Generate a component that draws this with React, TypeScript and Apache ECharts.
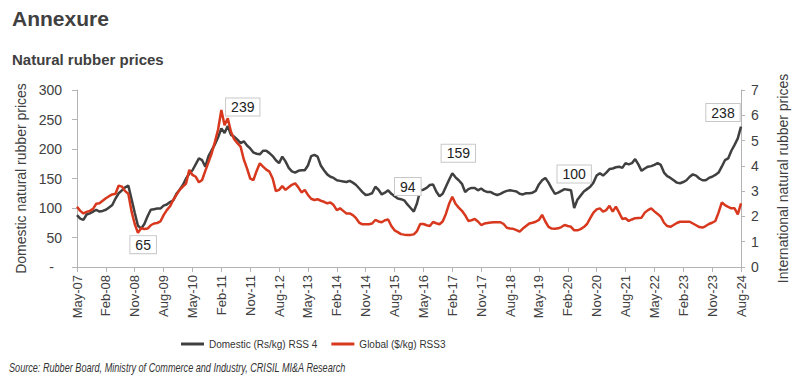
import React, { useEffect, useRef } from "react";
import * as echarts from "echarts";

// ---- data ----
const MONTH_NAMES = ["Jan", "Feb", "Mar", "Apr", "May", "Jun", "Jul", "Aug", "Sep", "Oct", "Nov", "Dec"];
const START_YEAR = 2007;
const START_MONTH = 4; // May
const N_MONTHS = 208; // May-07 .. Aug-24

const categories: string[] = [];
for (let k = 0; k < N_MONTHS; k++) {
  const m = (START_MONTH + k) % 12;
  const y = START_YEAR + Math.floor((START_MONTH + k) / 12);
  categories.push(`${MONTH_NAMES[m]}-${String(y % 100).padStart(2, "0")}`);
}

// Domestic (Rs/kg) RSS 4 — monthly
const domestic2007 = [88, 82, 80, 89, 91, 94, 97, 94];
const domestic2008 = [95, 97, 101, 105, 116, 125, 130, 135, 138, 115, 92, 70];
const domestic2009 = [65, 73, 86, 97, 98, 99, 99, 104, 106, 110, 113, 124];
const domestic2010 = [131, 139, 150, 158, 164, 174, 184, 181, 170, 188, 198, 208];
const domestic2011 = [220, 235, 227, 239, 224, 221, 216, 210, 213, 206, 201, 194];
const domestic2012 = [192, 191, 197, 197, 193, 188, 181, 176, 187, 179, 168, 162];
const domestic2013 = [160, 163, 164, 164, 172, 188, 190, 187, 172, 164, 157, 153];
const domestic2014 = [151, 147, 146, 145, 144, 146, 143, 139, 133, 127, 122, 123];
const domestic2015 = [125, 136, 131, 123, 126, 130, 124, 120, 116, 115, 113, 106];
const domestic2016 = [100, 94, 108, 130, 131, 134, 139, 140, 128, 120, 124, 136];
const domestic2017 = [148, 159, 152, 147, 141, 127, 132, 134, 134, 130, 133, 129];
const domestic2018 = [127, 127, 124, 122, 124, 127, 129, 130, 129, 128, 124, 123];
const domestic2019 = [125, 125, 126, 129, 140, 147, 151, 143, 133, 124, 126, 129];
const domestic2020 = [132, 131, 130, 100, 114, 121, 128, 132, 136, 143, 155, 159];
const domestic2021 = [155, 160, 166, 167, 169, 170, 168, 176, 174, 176, 183, 174];
const domestic2022 = [163, 167, 170, 171, 173, 176, 173, 160, 154, 151, 147, 143];
const domestic2023 = [142, 144, 147, 153, 157, 155, 150, 147, 147, 151, 153, 156];
const domestic2024 = [160, 170, 181, 184, 197, 207, 218, 238];

// Global ($/kg) RSS3 — monthly
const global2007 = [2.38, 2.22, 2.12, 2.18, 2.22, 2.3, 2.5, 2.52];
const global2008 = [2.62, 2.72, 2.8, 2.87, 2.9, 3.22, 3.18, 3.0, 2.9, 2.2, 1.7, 1.35];
const global2009 = [1.53, 1.5, 1.52, 1.65, 1.72, 1.74, 1.8, 2.05, 2.25, 2.4, 2.65, 2.85];
const global2010 = [3.05, 3.18, 3.3, 3.84, 3.64, 3.57, 3.35, 3.44, 3.8, 4.15, 4.5, 4.95];
const global2011 = [5.45, 6.21, 5.61, 5.88, 5.35, 5.05, 4.9, 4.76, 4.25, 3.9, 3.5, 3.44];
const global2012 = [3.8, 4.1, 3.97, 3.85, 3.77, 3.5, 3.0, 3.05, 3.2, 3.05, 3.15, 3.25];
const global2013 = [3.31, 3.15, 2.95, 3.05, 2.85, 2.7, 2.65, 2.68, 2.62, 2.58, 2.52, 2.55];
const global2014 = [2.45, 2.25, 2.32, 2.22, 2.12, 2.12, 2.05, 1.93, 1.75, 1.69, 1.69, 1.69];
const global2015 = [1.72, 1.86, 1.8, 1.77, 1.85, 1.88, 1.62, 1.45, 1.38, 1.3, 1.28, 1.27];
const global2016 = [1.27, 1.29, 1.42, 1.7, 1.7, 1.65, 1.62, 1.78, 1.73, 1.69, 1.8, 2.1];
const global2017 = [2.5, 2.78, 2.5, 2.35, 2.22, 2.05, 1.82, 1.85, 1.9, 1.8, 1.66, 1.72];
const global2018 = [1.74, 1.76, 1.77, 1.77, 1.77, 1.7, 1.55, 1.52, 1.51, 1.46, 1.4, 1.52];
const global2019 = [1.62, 1.72, 1.75, 1.79, 1.86, 2.06, 1.8, 1.59, 1.52, 1.51, 1.53, 1.58];
const global2020 = [1.66, 1.62, 1.59, 1.45, 1.45, 1.5, 1.58, 1.7, 1.93, 2.15, 2.28, 2.32];
const global2021 = [2.19, 2.25, 2.42, 2.19, 2.39, 2.15, 1.9, 1.93, 1.82, 1.88, 1.93, 1.94];
const global2022 = [1.95, 2.15, 2.25, 2.32, 2.2, 2.1, 1.99, 1.75, 1.62, 1.59, 1.66, 1.74];
const global2023 = [1.79, 1.79, 1.79, 1.79, 1.72, 1.65, 1.58, 1.56, 1.62, 1.7, 1.75, 1.82];
const global2024 = [2.15, 2.55, 2.45, 2.38, 2.32, 2.32, 2.08, 2.52];

const domestic = [
  ...domestic2007, ...domestic2008, ...domestic2009, ...domestic2010, ...domestic2011,
  ...domestic2012, ...domestic2013, ...domestic2014, ...domestic2015, ...domestic2016,
  ...domestic2017, ...domestic2018, ...domestic2019, ...domestic2020, ...domestic2021,
  ...domestic2022, ...domestic2023, ...domestic2024,
];
const globalPrice = [
  ...global2007, ...global2008, ...global2009, ...global2010, ...global2011,
  ...global2012, ...global2013, ...global2014, ...global2015, ...global2016,
  ...global2017, ...global2018, ...global2019, ...global2020, ...global2021,
  ...global2022, ...global2023, ...global2024,
];

// annotated domestic points (month index)
const annotatedIdx = [20, 47, 105, 117, 155, 207];

const SERIES_DOMESTIC = "Domestic (Rs/kg) RSS 4";
const SERIES_GLOBAL = "Global ($/kg) RSS3";

const FONT = "'Liberation Sans', Arial, sans-serif";

export default function App() {
  const ref = useRef<HTMLDivElement>(null);

  useEffect(() => {
    if (!ref.current) return;
    const chart = echarts.init(ref.current, undefined, { renderer: "svg" });

    const labelOffsets: number[][] = [
      [2, 16],
      [15, -19],
      [-6, -25],
      [6, -20],
      [0, -34],
      [-18, -14],
    ];

    const axisLineStyle = { color: "#b4b4b4", width: 1 };

    chart.setOption({
      animation: false,
      textStyle: { fontFamily: FONT },
      grid: { left: 77, right: 71, top: 90, bottom: 125, containLabel: false },
      legend: {
        left: 176,
        top: 334,
        itemWidth: 23,
        itemHeight: 3,
        itemGap: 14,
        icon: "rect",
        textStyle: { fontFamily: FONT, fontSize: 10, color: "#333" },
        data: [SERIES_DOMESTIC, SERIES_GLOBAL],
      },
      graphic: [
        {
          type: "text",
          left: 12,
          top: 8,
          style: { text: "Annexure", font: `bold 21px ${FONT}`, fill: "#404040" },
        },
        {
          type: "text",
          left: 12,
          top: 52,
          style: { text: "Natural rubber prices", font: `bold 15px ${FONT}`, fill: "#404040" },
        },
        {
          type: "text",
          x: 9,
          y: 367,
          scaleX: 0.76,
          style: {
            text: "Source: Rubber Board, Ministry of Commerce and Industry, CRISIL MI&A Research",
            font: `italic 12px ${FONT}`,
            fill: "#333",
            verticalAlign: "middle",
          },
        },
      ],
      xAxis: {
        type: "category",
        data: categories,
        boundaryGap: false,
        axisLine: { lineStyle: axisLineStyle },
        axisTick: { show: true, interval: 8, length: 5, lineStyle: axisLineStyle },
        axisLabel: { interval: 8, rotate: 90, margin: 8, fontSize: 13, color: "#404040", fontFamily: FONT },
        splitLine: { show: false },
      },
      yAxis: [
        {
          type: "value",
          min: 0,
          max: 300,
          interval: 50,
          name: "Domestic natural rubber prices",
          nameLocation: "middle",
          nameRotate: 90,
          nameGap: 45,
          nameTextStyle: { fontSize: 14, color: "#404040", fontFamily: FONT },
          axisLine: { show: true, lineStyle: axisLineStyle },
          axisTick: { show: true, length: 5, lineStyle: axisLineStyle },
          axisLabel: {
            margin: 15,
            fontSize: 14,
            color: "#404040",
            formatter: (v: number) => (v === 0 ? "{d|-}" : String(v)),
            rich: { d: { fontSize: 14, color: "#404040", padding: [0, 8, 0, 0] } },
          },
          splitLine: { show: false },
        },
        {
          type: "value",
          min: 0,
          max: 7,
          interval: 1,
          position: "right",
          name: "International natural rubber prices",
          nameLocation: "middle",
          nameRotate: 90,
          nameGap: 35,
          nameTextStyle: { fontSize: 14, color: "#404040", fontFamily: FONT },
          axisLine: { show: true, lineStyle: axisLineStyle },
          axisTick: { show: true, length: 4, lineStyle: axisLineStyle },
          axisLabel: { margin: 10, fontSize: 14, color: "#404040" },
          splitLine: { show: false },
        },
      ],
      series: [
        {
          name: SERIES_DOMESTIC,
          type: "line",
          yAxisIndex: 0,
          data: domestic,
          showSymbol: false,
          symbol: "none",
          lineStyle: { color: "#404040", width: 2.5 },
          itemStyle: { color: "#404040" },
          markPoint: {
            silent: true,
            symbol: "rect",
            symbolSize: 1,
            itemStyle: { color: "rgba(0,0,0,0)" },
            label: {
              show: true,
              position: "inside",
              formatter: "{c}",
              fontSize: 14,
              color: "#222",
              fontFamily: FONT,
              backgroundColor: "#fff",
              borderColor: "#c8c8c8",
              borderWidth: 1,
              padding: [2, 5, 1, 5],
            },
            data: annotatedIdx.map((i, k) => ({
              coord: [i, domestic[i]],
              value: domestic[i],
              label: { offset: labelOffsets[k] },
            })),
          },
        },
        {
          name: SERIES_GLOBAL,
          type: "line",
          yAxisIndex: 1,
          data: globalPrice,
          showSymbol: false,
          symbol: "none",
          lineStyle: { color: "#d7381e", width: 2.5 },
          itemStyle: { color: "#d7381e" },
        },
      ],
    });

    return () => chart.dispose();
  }, []);

  return (
    <div
      ref={ref}
      style={{ position: "fixed", left: 0, top: 0, width: 812, height: 392, background: "#fff" }}
    />
  );
}
